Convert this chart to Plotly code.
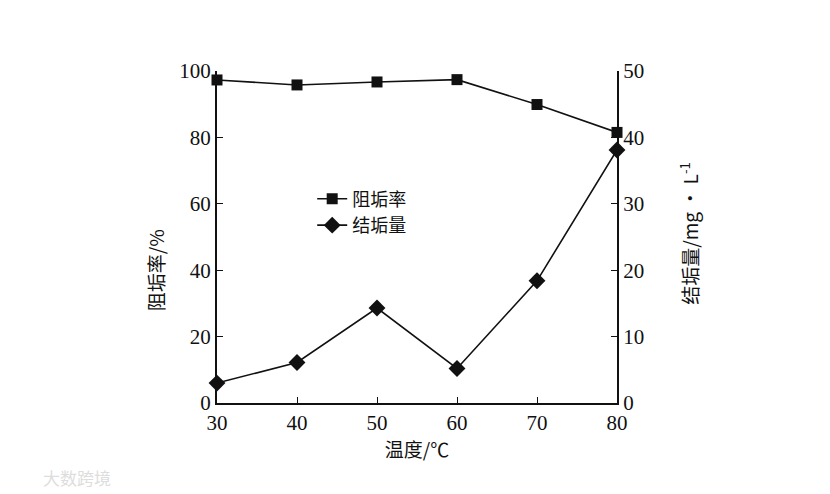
import plotly.graph_objects as go

# temperature (°C)
temps = [30, 40, 50, 60, 70, 80]
# scale inhibition rate (%)
inhibition = [97.3, 95.8, 96.7, 97.4, 89.9, 81.5]
# scale amount (mg/L)
scale_amount = [3.0, 6.1, 14.3, 5.2, 18.4, 38.1]

serif = "Liberation Serif, Times New Roman, serif"
cjk = "Noto Sans CJK SC, sans-serif"
ink = "#111111"

fig = go.Figure()

fig.add_trace(go.Scatter(x=temps, y=inhibition, name="阻垢率", mode="lines+markers",
                         line=dict(color=ink, width=1.6),
                         marker=dict(symbol="square", size=11, color=ink),
                         cliponaxis=False))
fig.add_trace(go.Scatter(x=temps, y=scale_amount, name="结垢量", mode="lines+markers",
                         yaxis="y2",
                         line=dict(color=ink, width=1.6),
                         marker=dict(symbol="diamond", size=13, color=ink),
                         cliponaxis=False))

# page body adds ~8px offset, so margins are shifted back
fig.update_layout(
    width=830, height=494,
    paper_bgcolor="white", plot_bgcolor="white",
    margin=dict(l=209, r=221, t=63, b=99, autoexpand=False),
    font=dict(family=serif, size=21, color=ink),
    showlegend=True,
    legend=dict(x=0.238, y=0.67, xanchor="left", yanchor="top",
                bgcolor="rgba(0,0,0,0)", font=dict(family=cjk, size=18, color=ink),
                tracegroupgap=4, itemwidth=30),
    xaxis=dict(range=[30, 80], tickvals=temps, showline=True, linecolor=ink, linewidth=2,
               ticks="inside", ticklen=6, tickcolor=ink, showgrid=False, zeroline=False,
               automargin=False,
               title=dict(text="温度/℃", font=dict(family=cjk, size=19), standoff=4)),
    yaxis=dict(range=[0, 100], tickvals=[0, 20, 40, 60, 80, 100], showline=True,
               linecolor=ink, linewidth=2, ticks="inside", ticklen=6, tickcolor=ink,
               showgrid=False, zeroline=False, automargin=False),
    yaxis2=dict(range=[0, 50], tickvals=[0, 10, 20, 30, 40, 50], overlaying="y", side="right",
                showline=True, linecolor=ink, linewidth=2, ticks="inside", ticklen=6,
                tickcolor=ink, showgrid=False, zeroline=False, automargin=False),
)

# y axis titles placed as rotated annotations
fig.add_annotation(text="阻垢率/%", x=-0.155, y=0.40, xref="paper", yref="paper",
                   xanchor="center", yanchor="middle",
                   textangle=-90, showarrow=False, font=dict(family=cjk, size=19, color=ink))
fig.add_annotation(text="结垢量/mg · L<sup>-1</sup>", x=1.18, y=0.51, xref="paper", yref="paper",
                   xanchor="center", yanchor="middle",
                   textangle=-90, showarrow=False, font=dict(family=cjk, size=19, color=ink))

# faint watermark in the corner
fig.add_annotation(text="大数跨境", x=-0.44, y=-0.225, xref="paper", yref="paper",
                   xanchor="left", yanchor="middle", showarrow=False,
                   font=dict(family=cjk, size=17, color="#dddddd"))

fig.write_html("out.html")
